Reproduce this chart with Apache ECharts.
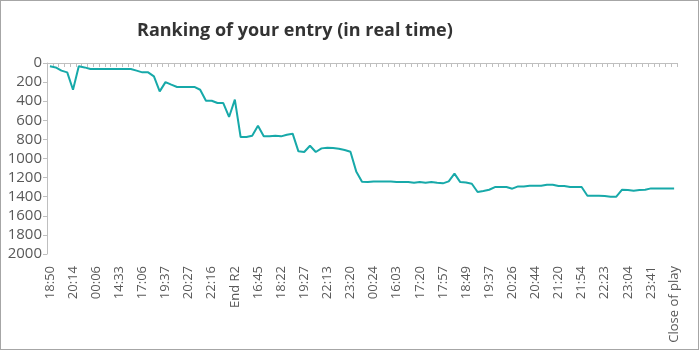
<!DOCTYPE html>
<html>
<head>
<meta charset="utf-8">
<script src="https://cdn.jsdelivr.net/npm/echarts@6/dist/echarts.min.js"></script>
<style>
  html, body { margin: 0; padding: 0; background: #fff; }
  #chart { width: 699px; height: 350px; box-sizing: border-box; border: 1px solid #a6a6a6; }
</style>
</head>
<body>
<div id="chart"></div>
<script>
// Visible time labels, one for every fourth snapshot
const tickLabels = ['18:50', '20:14', '00:06', '14:33', '17:06', '19:37', '20:27', '22:16', 'End R2',
  '16:45', '18:22', '19:27', '22:13', '23:20', '00:24', '16:03', '17:20', '17:57', '18:49', '19:37',
  '20:26', '20:44', '21:20', '21:54', '22:23', '23:04', '23:41', 'Close of play'];

// Rank of the entry at each snapshot
const ranking = [
  35, 46, 80, 98, 280, 35, 46, 63, 63, 63,
  63, 63, 63, 63, 63, 80, 98, 98, 140, 297,
  200, 227, 251, 251, 251, 251, 280, 395, 395, 419,
  419, 565, 384, 775, 775, 761, 657, 768, 768, 761,
  768, 751, 740, 925, 932, 866, 932, 894, 887, 890,
  897, 911, 929, 1135, 1243, 1247, 1240, 1240, 1240, 1242,
  1245, 1247, 1247, 1255, 1247, 1254, 1247, 1254, 1260, 1240,
  1159, 1247, 1252, 1264, 1351, 1340, 1327, 1299, 1299, 1299,
  1316, 1292, 1292, 1285, 1285, 1285, 1274, 1274, 1288, 1288,
  1299, 1299, 1299, 1390, 1390, 1390, 1393, 1400, 1400, 1327,
  1330, 1337, 1330, 1327, 1313, 1313, 1313, 1313, 1313
];

const yTicks = { min: 0, max: 2000, step: 200 };

// One category per snapshot; only every fourth carries a label
const categories = ranking.map((_, i) => (i % 4 === 0 ? (tickLabels[i / 4] || '') : ''));

const chart = echarts.init(document.getElementById('chart'));
const font = '"Open Sans", "Noto Sans", sans-serif';

chart.setOption({
  animation: false,
  textStyle: { fontFamily: font },
  title: {
    text: 'Ranking of your entry (in real time)',
    left: 131,
    top: 16,
    textStyle: { fontFamily: font, fontSize: 18, fontWeight: 'bold', color: '#333333' }
  },
  grid: { left: 46, right: 21, top: 62, bottom: 95, containLabel: false },
  xAxis: {
    type: 'category',
    data: categories,
    boundaryGap: true,
    axisLine: { lineStyle: { color: '#bfbfbf', width: 1 } },
    axisTick: { show: true, interval: 0, length: 4, lineStyle: { color: '#bfbfbf' } },
    axisLabel: { interval: 3, rotate: 90, color: '#595959', fontSize: 13, fontFamily: font, margin: 12 }
  },
  yAxis: {
    type: 'value',
    inverse: true,
    min: yTicks.min,
    max: yTicks.max,
    interval: yTicks.step,
    splitLine: { show: false },
    axisLine: { show: true, lineStyle: { color: '#bfbfbf', width: 1 } },
    axisTick: { show: true, length: 4, lineStyle: { color: '#bfbfbf' } },
    axisLabel: { color: '#595959', fontSize: 15, fontFamily: font, margin: 5, formatter: v => String(v) }
  },
  series: [{
    type: 'line',
    data: ranking,
    symbol: 'none',
    lineStyle: { color: '#17a9a9', width: 2 },
    itemStyle: { color: '#17a9a9' }
  }]
});
</script>
</body>
</html>
